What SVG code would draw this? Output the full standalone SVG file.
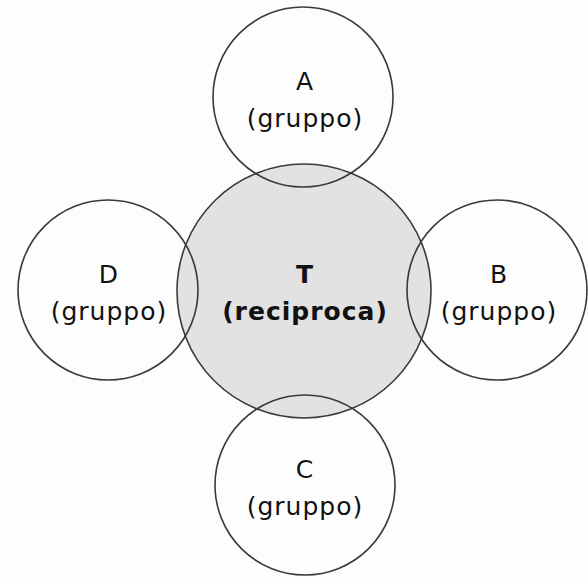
<svg xmlns="http://www.w3.org/2000/svg" width="588" height="578" viewBox="0 0 588 578">
  <style>
    .ring { fill: none; stroke: #3a3a3a; stroke-width: 1.6; }
    .core { fill: #e2e2e2; stroke: #3a3a3a; stroke-width: 1.6; }
    .lbl { font-family: "DejaVu Sans", Verdana, sans-serif; font-size: 25px; fill: #111; text-anchor: middle; letter-spacing: 1px; }
    .bold { font-weight: bold; }
  </style>
  <rect width="588" height="578" fill="#fdfdfd"/>

  <!-- central circle, drawn first so the outer rings stay visible over it -->
  <g id="node-T">
    <circle class="core" cx="304" cy="291" r="127"/>
    <text class="lbl bold" x="305" y="283">T</text>
    <text class="lbl bold" x="305" y="320">(reciproca)</text>
  </g>

  <g id="node-A">
    <circle class="ring" cx="303" cy="97" r="90"/>
    <text class="lbl" x="305" y="90">A</text>
    <text class="lbl" x="305" y="127">(gruppo)</text>
  </g>

  <g id="node-B">
    <circle class="ring" cx="497" cy="290" r="90"/>
    <text class="lbl" x="499" y="283">B</text>
    <text class="lbl" x="499" y="320">(gruppo)</text>
  </g>

  <g id="node-C">
    <circle class="ring" cx="305" cy="485" r="90"/>
    <text class="lbl" x="305" y="478">C</text>
    <text class="lbl" x="305" y="515">(gruppo)</text>
  </g>

  <g id="node-D">
    <circle class="ring" cx="108" cy="290" r="90"/>
    <text class="lbl" x="109" y="283">D</text>
    <text class="lbl" x="109" y="320">(gruppo)</text>
  </g>

  <g id="connectors"></g>
</svg>
